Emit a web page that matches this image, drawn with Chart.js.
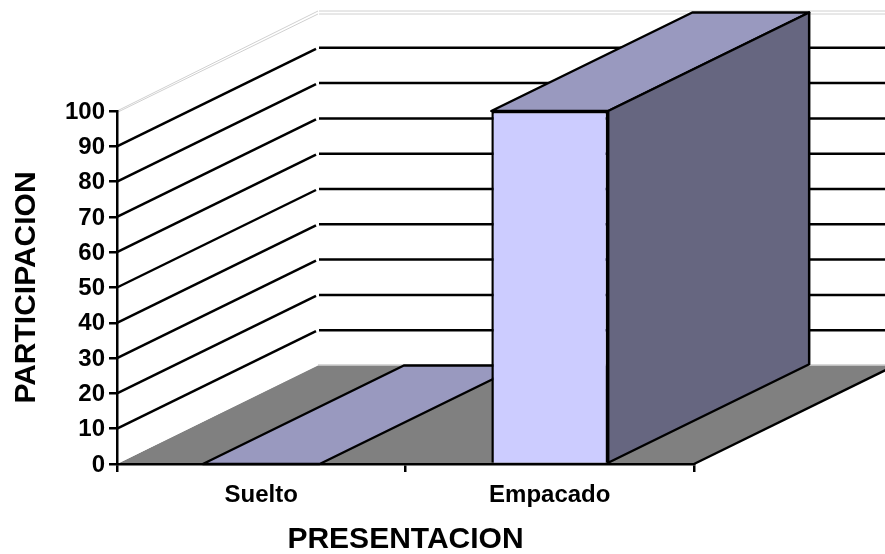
<!DOCTYPE html>
<html>
<head>
<meta charset="utf-8">
<style>html,body{margin:0;padding:0;background:#fff;overflow:hidden}canvas{display:block}</style>
<script src="https://cdn.jsdelivr.net/npm/chart.js@4"></script>
</head>
<body>
<canvas id="c" width="885" height="554"></canvas>
<script>
const categories = ["Suelto", "Empacado"];
const participacion = [0, 100];
const gridValues = [10, 20, 30, 40, 50, 60, 70, 80, 90];

const DEPTH_X = 201, DEPTH_Y = 98.5, LINE = 2.5;
const FLOOR = "#808080", FRONT = "#CCCCFF", TOP = "#9999BF", SIDE = "#666680";
const FONT = "'Liberation Sans', Arial, sans-serif";

function poly(ctx, pts, fill, stroke, width) {
  ctx.beginPath();
  pts.forEach((p, i) => i ? ctx.lineTo(p[0], p[1]) : ctx.moveTo(p[0], p[1]));
  ctx.closePath();
  if (fill) { ctx.fillStyle = fill; ctx.fill(); }
  if (stroke) { ctx.strokeStyle = stroke; ctx.lineWidth = width; ctx.lineJoin = "round"; ctx.stroke(); }
}
function seg(ctx, x1, y1, x2, y2, color, width) {
  ctx.beginPath(); ctx.moveTo(x1, y1); ctx.lineTo(x2, y2);
  ctx.strokeStyle = color; ctx.lineWidth = width; ctx.stroke();
}

const depthPlugin = {
  id: "depth",
  beforeDraw(chart) {
    const ctx = chart.ctx, a = chart.chartArea, y = chart.scales.y;
    const y0 = y.getPixelForValue(0), yMax = y.getPixelForValue(100);
    const L = a.left, R = a.right;
    ctx.save();
    // floor
    poly(ctx, [[L, y0], [R, y0], [R + DEPTH_X, y0 - DEPTH_Y], [L + DEPTH_X, y0 - DEPTH_Y]], FLOOR);
    seg(ctx, R, y0, R + DEPTH_X, y0 - DEPTH_Y, "#000", LINE);
    // floor back and left edges, top gridline: thin light double lines
    seg(ctx, L + DEPTH_X, y0 - DEPTH_Y - 1, chart.width, y0 - DEPTH_Y - 1, "#d8d8d8", 1);
    seg(ctx, L + 1, y0 - 1, L + DEPTH_X, y0 - DEPTH_Y - 1, "#ffffff", 1);
    seg(ctx, L, yMax, L + DEPTH_X, yMax - DEPTH_Y - 1.5, "#d0d0d0", 1);
    seg(ctx, L, yMax + 1.5, L + DEPTH_X, yMax - DEPTH_Y + 1.5, "#d0d0d0", 1);
    seg(ctx, L + DEPTH_X + 1, yMax - DEPTH_Y - 1.5, chart.width, yMax - DEPTH_Y - 1.5, "#d0d0d0", 1);
    seg(ctx, L + DEPTH_X + 1, yMax - DEPTH_Y + 1.5, chart.width, yMax - DEPTH_Y + 1.5, "#d0d0d0", 1);
    // gridlines along left wall and back wall
    gridValues.forEach(v => {
      const p = y.getPixelForValue(v);
      seg(ctx, L, p, L + DEPTH_X - 2, p - DEPTH_Y + 1, "#000", LINE);
      seg(ctx, L + DEPTH_X + 1, p - DEPTH_Y, chart.width, p - DEPTH_Y, "#000", LINE);
    });
    ctx.restore();
  },
  beforeDatasetsDraw(chart) {
    const ctx = chart.ctx;
    ctx.save();
    chart.getDatasetMeta(0).data.forEach(bar => {
      const l = bar.x - bar.width / 2, r = bar.x + bar.width / 2, t = bar.y;
      const b = bar.base;
      poly(ctx, [[l, t], [r, t], [r + DEPTH_X, t - DEPTH_Y], [l + DEPTH_X, t - DEPTH_Y]], TOP, "#000", LINE);
      if (b - t > 0.5) {
        poly(ctx, [[r, t], [r + DEPTH_X, t - DEPTH_Y], [r + DEPTH_X, b - DEPTH_Y], [r, b]], SIDE, "#000", LINE);
      }
    });
    ctx.restore();
  }
};

new Chart(document.getElementById("c"), {
  type: "bar",
  data: {
    labels: categories,
    datasets: [{
      data: participacion,
      backgroundColor: FRONT,
      borderColor: "#000",
      borderWidth: LINE,
      barPercentage: 0.405,
      categoryPercentage: 1,
      clip: false
    }]
  },
  options: {
    responsive: false,
    animation: false,
    events: [],
    layout: { padding: { top: 111, right: 191, left: 0, bottom: 0 } },
    plugins: { legend: { display: false }, tooltip: { enabled: false }, title: { display: false } },
    scales: {
      x: {
        afterFit(s) { s.height = 90; },
        grid: { drawOnChartArea: false, color: "#000", lineWidth: LINE, tickLength: 8, tickColor: "#000" },
        border: { color: "#000", width: LINE },
        ticks: { color: "#000", padding: 9, maxRotation: 0, autoSkip: false,
                 font: { family: FONT, size: 24, weight: "bold" } },
        title: { display: true, text: "PRESENTACION", color: "#000", padding: 2,
                 font: { family: FONT, size: 30, weight: "bold", lineHeight: 0.8 } }
      },
      y: {
        min: 0, max: 100,
        afterFit(s) { s.width = 117; },
        grid: { drawOnChartArea: false, color: "#000", lineWidth: LINE, tickLength: 8, tickColor: "#000" },
        border: { color: "#000", width: LINE },
        ticks: { color: "#000", padding: 4, stepSize: 10, autoSkip: false, labelOffset: 1,
                 font: { family: FONT, size: 24, weight: "bold" } },
        title: { display: true, text: "PARTICIPACION", color: "#000", padding: 12,
                 font: { family: FONT, size: 30, weight: "bold", lineHeight: 1 } }
      }
    }
  },
  plugins: [depthPlugin]
});
</script>
</body>
</html>
